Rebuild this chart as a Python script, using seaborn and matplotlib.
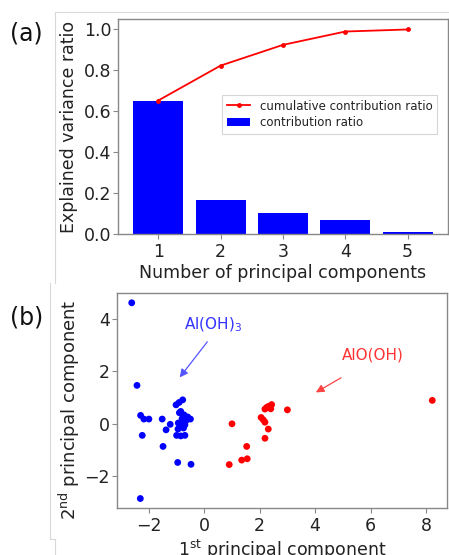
import matplotlib
matplotlib.use("Agg")
import matplotlib.pyplot as plt
from matplotlib.lines import Line2D
from matplotlib.patches import Patch
import seaborn as sns
import pandas as pd

# ---- data: panel (a) ----
components = [1, 2, 3, 4, 5]
contribution = [0.650, 0.168, 0.102, 0.066, 0.009]
cumulative = [0.650, 0.820, 0.921, 0.986, 0.996]

# ---- data: panel (b) ----
aloh3_pc1 = [-2.62, -2.43, -2.30, -2.18, -2.00, -2.24, -2.31, -1.52, -1.23, -1.38,
             -1.49, -0.96, -0.48, -1.02, -0.91, -0.78, -0.85, -0.73, -0.60, -0.50,
             -0.82, -0.94, -0.70, -0.87, -1.00, -0.85, -0.70, -0.80, -0.66, -0.90,
             -0.75, -0.95]
aloh3_pc2 = [4.60, 1.46, 0.32, 0.18, 0.18, -0.44, -2.84, 0.18, -0.02, -0.23,
             -0.86, -1.47, -1.54, 0.72, 0.81, 0.91, 0.47, 0.34, 0.26, 0.18,
             0.09, 0.03, -0.04, -0.10, -0.44, -0.46, -0.44, 0.20, 0.12, 0.42,
             -0.16, -0.20]
aloooh_pc1 = [8.23, 3.00, 2.43, 2.31, 2.40, 2.19, 2.05, 2.13, 2.19, 2.31,
              2.19, 1.00, 1.53, 1.55, 1.35, 0.90, 2.25]
aloooh_pc2 = [0.89, 0.53, 0.73, 0.66, 0.57, 0.56, 0.24, 0.15, 0.06, -0.20,
              -0.55, 0.00, -0.86, -1.33, -1.38, -1.55, 0.62]

df_bar = pd.DataFrame({"n": components, "ratio": contribution})
df_cum = pd.DataFrame({"n": components, "cum": cumulative})
df_pca = pd.DataFrame({
    "pc1": aloh3_pc1 + aloooh_pc1,
    "pc2": aloh3_pc2 + aloooh_pc2,
    "phase": ["Al(OH)3"] * len(aloh3_pc1) + ["AlO(OH)"] * len(aloooh_pc1),
})

plt.rcParams.update({
    "font.family": ["DejaVu Sans"],
    "axes.edgecolor": "#888888",
    "xtick.color": "#888888",
    "ytick.color": "#888888",
    "xtick.labelcolor": "#222222",
    "ytick.labelcolor": "#222222",
    "axes.linewidth": 1.0,
})

W, H = 449, 555
fig = plt.figure(figsize=(W / 100, H / 100), dpi=100)

def rect(l, r, t, b):
    return [l / W, 1 - b / H, (r - l) / W, (b - t) / H]

# ---- panel (a) ----
ax1 = fig.add_axes(rect(118.3, 447.6, 19, 234))
sns.barplot(data=df_bar, x="n", y="ratio", native_scale=True, color="#0000ff",
            saturation=1, width=0.8, linewidth=0, ax=ax1, errorbar=None)
sns.lineplot(data=df_cum, x="n", y="cum", color="#ff0000", marker="o",
             markersize=3.5, markeredgewidth=0, linewidth=1.3, ax=ax1)
ax1.set_xlim(0.36, 5.64)
ax1.set_ylim(0, 1.047)
ax1.set_xticks(components)
ax1.set_yticks([0.0, 0.2, 0.4, 0.6, 0.8, 1.0])
ax1.tick_params(axis="y", labelsize=12.5, pad=1.5)
ax1.tick_params(axis="x", labelsize=12.5, pad=3)
ax1.set_xlabel("Number of principal components", fontsize=12.5, color="#222222", labelpad=2)
ax1.set_ylabel("Explained variance ratio", fontsize=12.5, color="#222222", labelpad=4)
handles = [
    Line2D([0], [0], color="#ff0000", marker="o", markersize=3.5, markeredgewidth=0, lw=1.3),
    Patch(facecolor="#0000ff"),
]
leg = ax1.legend(handles, ["cumulative contribution ratio", "contribution ratio"],
                 loc="upper left", bbox_to_anchor=(0.315, 0.647), borderaxespad=0,
                 fontsize=8.5, frameon=True, fancybox=False, edgecolor="#cccccc",
                 handlelength=2.0, handletextpad=0.8, borderpad=0.4, labelspacing=0.3)
leg.get_frame().set_linewidth(0.8)
for t in leg.get_texts():
    t.set_color("#222222")

# ---- panel (b) ----
ax2 = fig.add_axes(rect(116.7, 447.3, 293, 508.3))
sns.scatterplot(data=df_pca, x="pc1", y="pc2", hue="phase",
                palette={"Al(OH)3": "#0000ff", "AlO(OH)": "#ff0000"},
                s=24, linewidth=0, legend=False, ax=ax2)
ax2.set_xticks([-2, 0, 2, 4, 6, 8])
ax2.set_yticks([-2, 0, 2, 4])
ax2.tick_params(axis="y", labelsize=12.5, pad=1.5)
ax2.tick_params(axis="x", labelsize=12.5, pad=3)
ax2.set_xlabel(r"1$^{\rm st}$ principal component", fontsize=12.5, color="#222222", labelpad=2)
ax2.set_ylabel(r"2$^{\rm nd}$ principal component", fontsize=13, color="#222222", labelpad=4)
ax2.yaxis.set_label_coords(-0.105, 0.457)

ax2.annotate("", xy=(-0.95, 1.68), xytext=(0.17, 3.2),
             arrowprops=dict(arrowstyle="-|>", color="#5555ff", lw=0.9, mutation_scale=12))
ax2.text(0.3, 3.77, r"Al(OH)$_3$", color="#3333ff", fontsize=11, ha="center", va="center")
ax2.annotate("", xy=(3.94, 1.14), xytext=(5.02, 1.80),
             arrowprops=dict(arrowstyle="-|>", color="#ff4444", lw=0.9, mutation_scale=12))
ax2.text(6.1, 2.63, "AlO(OH)", color="#ff3333", fontsize=11, ha="center", va="center")

# ---- panel labels ----
fig.text(10 / W, 1 - 34 / H, "(a)", fontsize=17, va="center", ha="left", color="#111111")
fig.text(10 / W, 1 - 318 / H, "(b)", fontsize=17, va="center", ha="left", color="#111111")

# faint composite borders
fig.add_artist(Line2D([55 / W, 1], [1 - 12 / H, 1 - 12 / H], color="#d8d8d8", lw=0.8))
fig.add_artist(Line2D([55 / W, 55 / W], [1 - 12 / H, 1 - 283 / H], color="#d8d8d8", lw=0.8))
fig.add_artist(Line2D([50 / W, 50 / W], [1 - 283 / H, 1 - 539 / H], color="#d8d8d8", lw=0.8))
fig.add_artist(Line2D([50 / W, 55 / W], [1 - 539 / H, 1 - 539 / H], color="#d8d8d8", lw=0.8))
fig.add_artist(Line2D([55 / W, 55 / W], [1 - 539 / H, 0], color="#d8d8d8", lw=0.8))

fig.savefig("out.png", dpi=100)
